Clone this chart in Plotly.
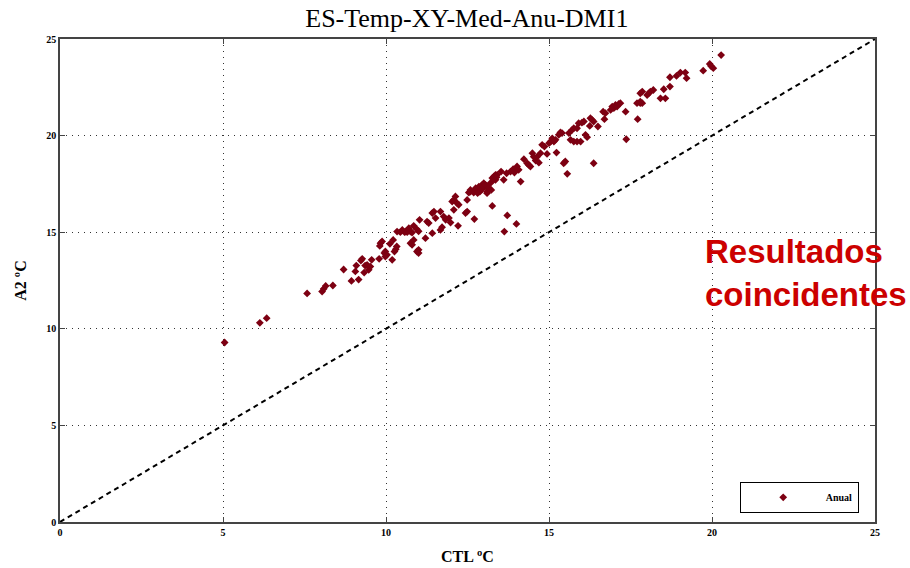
import plotly.graph_objects as go

ctl = [5.05, 6.13, 6.34, 7.58, 8.04, 8.09, 8.15, 8.37, 8.70, 8.94, 9.16, 9.06, 9.09, 9.23, 9.27, 9.33, 9.36, 9.42, 9.47, 9.52,
       9.56, 9.79, 9.81, 9.83, 9.88, 9.95, 9.98, 10.03, 9.98, 10.12, 10.19, 10.22, 10.26, 10.30, 10.33, 10.34, 10.44, 10.50, 10.57, 10.60,
       10.65, 10.70, 10.75, 10.80, 10.85, 10.94, 11.00, 10.75, 10.80, 10.85, 10.95, 11.00, 11.00, 11.03, 11.21, 11.26, 11.31, 11.42, 11.47, 11.42,
       11.52, 11.67, 11.77, 11.83, 11.67, 11.72, 11.93, 11.98, 12.03, 12.08, 12.13, 12.18, 12.23, 12.08, 12.21, 12.44, 12.49, 12.49, 12.54, 12.59,
       12.59, 12.69, 12.75, 12.77, 12.81, 12.85, 12.88, 12.95, 12.95, 13.00, 13.00, 13.05, 13.10, 13.10, 13.15, 13.15, 13.20, 13.23, 13.26, 13.31,
       13.31, 13.36, 13.36, 13.41, 13.39, 12.71, 13.26, 13.72, 14.00, 13.63, 13.53, 13.61, 13.70, 13.82, 13.90, 13.94, 14.02, 14.07, 14.13, 14.23,
       14.33, 14.38, 14.43, 14.49, 14.53, 14.59, 14.64, 14.69, 14.74, 14.79, 14.86, 14.94, 15.00, 15.05, 15.10, 15.15, 15.20, 15.23, 15.30, 15.35,
       15.40, 15.45, 15.50, 15.56, 15.61, 15.66, 15.71, 15.76, 15.76, 15.86, 15.86, 15.91, 15.97, 16.01, 16.07, 16.12, 16.17, 16.25, 16.27, 16.32,
       16.37, 16.37, 16.50, 16.66, 16.73, 16.70, 16.89, 16.94, 16.99, 17.04, 17.09, 17.14, 17.19, 17.35, 17.37, 17.72, 17.70, 17.80, 17.86, 17.80,
       17.86, 18.01, 18.06, 18.11, 18.20, 18.42, 18.57, 18.52, 18.71, 18.71, 18.91, 19.03, 19.18, 19.22, 19.73, 19.93, 19.97, 20.04, 20.28, 17.80]

a2 = [9.29, 10.31, 10.55, 11.83, 11.93, 12.07, 12.22, 12.24, 13.07, 12.48, 12.55, 12.97, 13.27, 13.53, 13.62, 12.91, 13.27, 13.31, 13.05, 13.22,
      13.57, 13.62, 14.29, 14.43, 14.52, 13.92, 14.00, 13.83, 13.74, 14.40, 13.57, 14.60, 14.00, 14.12, 14.26, 15.03, 15.00, 15.12, 15.00, 15.03,
      15.00, 15.21, 15.03, 14.98, 15.33, 15.16, 15.05, 14.43, 14.35, 14.60, 14.00, 14.09, 13.92, 15.64, 14.69, 15.55, 15.47, 15.99, 16.07, 14.95,
      15.73, 16.07, 15.81, 15.64, 15.12, 15.26, 15.73, 15.50, 16.59, 16.67, 16.85, 16.50, 16.42, 16.16, 15.33, 15.99, 16.07, 16.67, 17.05, 17.10,
      17.19, 17.05, 17.28, 17.19, 17.02, 17.36, 17.10, 17.23, 17.45, 17.36, 17.54, 17.45, 17.02, 17.10, 17.23, 17.28, 17.54, 17.19, 17.80, 17.72,
      17.88, 17.97, 17.71, 17.97, 17.85, 15.68, 16.36, 15.87, 15.43, 15.03, 18.14, 17.71, 18.05, 18.14, 18.26, 18.09, 18.40, 18.23, 17.62, 18.78,
      18.57, 18.48, 18.40, 19.09, 18.91, 18.71, 18.91, 18.60, 19.09, 19.52, 19.43, 19.05, 19.61, 19.69, 19.86, 19.69, 19.78, 19.12, 20.04, 20.16,
      20.13, 18.57, 18.66, 18.02, 20.13, 19.78, 20.30, 20.38, 19.69, 19.69, 20.38, 20.64, 19.69, 20.67, 20.73, 20.04, 19.92, 20.50, 20.90, 20.81,
      20.73, 18.57, 20.47, 21.24, 21.16, 20.85, 21.33, 21.50, 21.42, 21.59, 21.50, 21.64, 21.68, 21.24, 19.81, 20.85, 21.68, 21.68, 21.68, 22.19,
      22.28, 22.10, 22.19, 22.28, 22.36, 21.93, 21.93, 22.40, 22.54, 23.02, 23.09, 23.26, 23.26, 22.97, 23.36, 23.71, 23.60, 23.49, 24.17, 21.76]

diag = [0, 25]
tick_vals = [0, 5, 10, 15, 20, 25]
tick_text = ["0", "5", "10", "15", "20", "25"]

serif = "Liberation Serif, Times New Roman, serif"

fig = go.Figure()
fig.add_trace(go.Scatter(x=diag, y=diag, mode="lines",
                         line=dict(color="black", width=2, dash="5px,4px"),
                         showlegend=False, hoverinfo="skip"))
fig.add_trace(go.Scatter(x=ctl, y=a2, mode="markers", name="<b>Anual</b>",
                         marker=dict(symbol="diamond", size=6, color="#7d0012")))

axis_common = dict(range=[0, 25], tickvals=tick_vals, ticktext=tick_text,
                   showgrid=True, gridcolor="#333333", griddash="1px,5px", gridwidth=1.3,
                   showline=True, linecolor="#444444", linewidth=1.5, mirror="ticks",
                   ticks="inside", ticklen=5, tickcolor="#444444",
                   zeroline=False, automargin=False,
                   tickfont=dict(family=serif, size=10, color="black", weight="bold"))

fig.update_xaxes(**axis_common,
                 title=dict(text="<b>CTL ºC</b>", font=dict(family=serif, size=16, color="black"), standoff=14))
fig.update_yaxes(**axis_common,
                 title=dict(text="<b>A2 ºC</b>", font=dict(family=serif, size=16, color="black"), standoff=16))

fig.update_layout(
    width=910, height=568,
    margin=dict(l=60, r=35, t=39, b=46),
    paper_bgcolor="white", plot_bgcolor="white",
    title=dict(text="ES-Temp-XY-Med-Anu-DMI1", x=0.513, xanchor="center", y=0.968, yanchor="middle",
               font=dict(family=serif, size=26, color="black")),
    legend=dict(x=0.834, y=0.019, xanchor="left", yanchor="bottom",
                bordercolor="black", borderwidth=1, bgcolor="white",
                font=dict(family=serif, size=10, color="black"),
                itemwidth=75, entrywidth=123, tracegroupgap=0),
    annotations=[dict(text="Resultados<br>coincidentes", xref="paper", yref="paper",
                      x=0.789, y=0.515, xanchor="left", yanchor="middle", align="left",
                      showarrow=False,
                      font=dict(family="Liberation Sans, Arial, sans-serif", size=33, color="#cc0000", weight="bold"))],
)

fig.write_html("out.html")
